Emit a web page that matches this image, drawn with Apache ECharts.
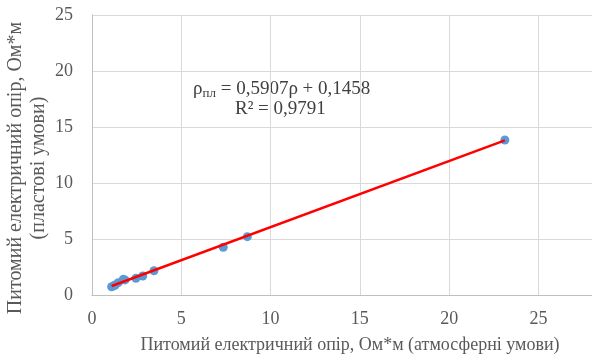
<!DOCTYPE html>
<html><head><meta charset="utf-8">
<script src="https://cdn.jsdelivr.net/npm/echarts@6/dist/echarts.min.js"></script>
<style>html,body{margin:0;padding:0;background:#fff}#c{width:592px;height:361px}</style>
</head><body><div id="c"></div>
<script>
// measured points: [atmospheric, reservoir]
const xValues = [1.10, 1.22, 1.30, 1.47, 1.75, 1.85, 2.46, 2.84, 3.47, 7.35, 8.70, 23.12];
const yValues = [0.74, 0.82, 0.89, 1.10, 1.40, 1.35, 1.49, 1.70, 2.17, 4.26, 5.21, 13.84];
// trendline endpoints
const trendX = [1.10, 23.12];
const trendY = [0.80, 13.80];
const xTicks = [0, 5, 10, 15, 20, 25];
const yTicks = [0, 5, 10, 15, 20, 25];
const equationText = ['ρ', 'пл', ' = 0,5907ρ + 0,1458'];
const r2Text = 'R² = 0,9791';
const xTitle = 'Питомий електричний опір, Ом*м (атмосферні умови)';
const yTitle1 = 'Питомий електричний опір, Ом*м';
const yTitle2 = '(пластові умови)';

const pts = xValues.map((x, i) => [x, yValues[i]]);
const trend = trendX.map((x, i) => [x, trendY[i]]);
const font = '"Liberation Serif","Times New Roman",serif';
const chart = echarts.init(document.getElementById('c'));
chart.setOption({
  animation: false,
  grid: {left: 92, top: 15, right: 0, bottom: 66},
  xAxis: {
    type: 'value', min: 0, max: 28, interval: 5,
    axisLine: {show: true, lineStyle: {color: '#bfbfbf', width: 1}},
    axisTick: {show: false},
    splitLine: {show: true, lineStyle: {color: '#d9d9d9', width: 1}},
    axisLabel: {color: '#595959', fontFamily: font, fontSize: 18, margin: 15, showMaxLabel: false,
      formatter: v => xTicks.includes(v) ? String(v) : ''}
  },
  yAxis: {
    type: 'value', min: 0, max: 25, interval: 5,
    axisLine: {show: true, lineStyle: {color: '#bfbfbf', width: 1}},
    axisTick: {show: false},
    splitLine: {show: true, lineStyle: {color: '#d9d9d9', width: 1}},
    axisLabel: {color: '#595959', fontFamily: font, fontSize: 18, margin: 19,
      formatter: v => yTicks.includes(v) ? String(v) : ''}
  },
  series: [
    {type: 'scatter', data: pts, symbolSize: 9, itemStyle: {color: '#5b9bd5', opacity: 1}, z: 2},
    {type: 'line', data: trend, symbol: 'none', lineStyle: {color: '#ff0000', width: 2.5}, z: 3}
  ],
  graphic: [
    {type: 'text', x: 193, y: 89, style: {
      text: '{a|' + equationText[0] + '}{s|' + equationText[1] + '}{a|' + equationText[2] + '}',
      verticalAlign: 'middle',
      rich: {
        a: {fontFamily: font, fontSize: 19, fill: '#404040'},
        s: {fontFamily: font, fontSize: 13, fill: '#404040', padding: [9, 0, 0, 0]}
      }}},
    {type: 'text', x: 235, y: 109, style: {text: r2Text, fontFamily: font, fontSize: 19, fill: '#404040', verticalAlign: 'middle'}},
    {type: 'text', x: 350, y: 345, style: {text: xTitle, fontFamily: font, fontSize: 18, fill: '#595959',
      align: 'center', verticalAlign: 'middle'}},
    {type: 'text', x: 16, y: 168, rotation: Math.PI / 2, style: {text: yTitle1, fontFamily: font, fontSize: 20,
      fill: '#595959', align: 'center', verticalAlign: 'middle'}},
    {type: 'text', x: 39, y: 168, rotation: Math.PI / 2, style: {text: yTitle2, fontFamily: font, fontSize: 20,
      fill: '#595959', align: 'center', verticalAlign: 'middle'}}
  ]
});
</script></body></html>
